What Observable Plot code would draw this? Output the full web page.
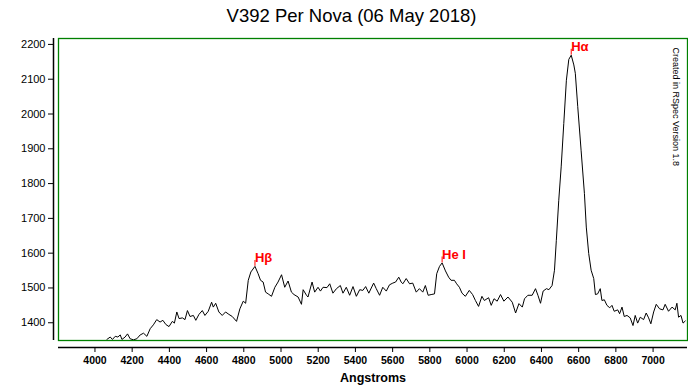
<!DOCTYPE html>
<html>
<head>
<meta charset="utf-8">
<script src="https://cdn.jsdelivr.net/npm/d3@7"></script>
<script src="https://cdn.jsdelivr.net/npm/@observablehq/plot@0.6"></script>
<style>
  html, body { margin: 0; padding: 0; background: #fff; }
  #wrap { position: relative; width: 688px; height: 389px; overflow: hidden; }
  #title { position: absolute; left: 0; top: 0; width: 688px; height: 36px;
    font-family: "Liberation Sans", Arial, sans-serif; font-size: 18.5px; color: #000;
    text-align: center; line-height: 18px; padding-top: 7px; box-sizing: border-box; text-indent: 15px; }
  #chart { position: absolute; left: 0; top: 36px; }
</style>
</head>
<body>
<div id="wrap">
  <div id="title">V392 Per Nova (06 May 2018)</div>
  <div id="chart"></div>
</div>
<script>
// Spectrum (wavelength in Angstroms, relative flux)
const wavelengths = [
  4064,4082,4094,4109,4123,4136,4145,4162,4175,4189,4207,4225,4243,4261,4279,4297,4314,4332,4350,4365,
  4381,4398,4416,4427,4440,4452,4470,4484,4497,4511,4529,4542,4559,4577,4591,4609,4627,4636,4649,4666,
  4684,4702,4720,4738,4761,4779,4797,4810,4824,4838,4860,4877,4890,4904,4917,4931,4949,4967,4984,5003,
  5020,5038,5056,5070,5092,5110,5119,5137,5145,5167,5181,5199,5212,5226,5247,5262,5279,5298,5319,5333,
  5351,5369,5387,5405,5423,5440,5455,5472,5498,5512,5530,5547,5566,5583,5601,5616,5633,5646,5655,5673,
  5691,5708,5727,5744,5762,5776,5791,5807,5825,5837,5852,5866,5884,5901,5914,5932,5944,5959,5973,5991,
  6012,6030,6045,6062,6080,6093,6116,6130,6145,6162,6180,6198,6220,6243,6261,6279,6297,6309,6327,6350,
  6368,6381,6395,6409,6427,6440,6457,6470,6480,6493,6506,6520,6534,6547,6560,6574,6582,6595,6613,6631,
  6641,6654,6667,6681,6690,6702,6716,6725,6738,6752,6767,6779,6791,6810,6820,6833,6845,6860,6877,6892,
  6904,6917,6931,6949,6963,6976,6988,7003,7017,7035,7053,7065,7083,7102,7119,7128,7137,7150,7161,7173
];
const flux = [
  1352,1359,1352,1361,1359,1365,1352,1359,1368,1354,1351,1354,1365,1370,1361,1383,1394,1409,1402,1407,
  1395,1389,1404,1399,1431,1412,1414,1409,1435,1418,1421,1407,1424,1435,1421,1433,1459,1445,1456,1431,
  1421,1431,1424,1418,1404,1440,1462,1456,1522,1546,1562,1541,1522,1517,1488,1483,1476,1502,1517,1538,
  1502,1520,1488,1481,1474,1453,1495,1479,1474,1517,1488,1502,1491,1502,1501,1512,1485,1498,1507,1485,
  1502,1479,1504,1476,1495,1493,1504,1485,1514,1498,1479,1502,1491,1509,1514,1517,1531,1517,1512,1527,
  1512,1514,1488,1498,1488,1507,1479,1481,1483,1541,1562,1572,1549,1531,1522,1522,1512,1502,1485,1476,
  1493,1481,1464,1447,1476,1464,1472,1450,1469,1462,1481,1462,1474,1459,1428,1455,1445,1469,1479,1479,
  1498,1479,1456,1491,1498,1495,1507,1551,1637,1752,1848,1973,2097,2157,2169,2141,2117,2021,1896,1771,
  1675,1599,1551,1527,1481,1483,1498,1464,1466,1450,1443,1450,1433,1437,1426,1445,1418,1421,1414,1392,
  1421,1399,1416,1409,1428,1414,1397,1431,1453,1440,1437,1453,1433,1445,1437,1456,1416,1421,1399,1405
];

// Line identifications
const lineNames = ["H\u03b2", "He I", "H\u03b1"];
const lineWaves = [4860, 5866, 6560];
const linePeaks = [1562, 1572, 2169];

// Axis ticks
const xTicks = [4000,4200,4400,4600,4800,5000,5200,5400,5600,5800,6000,6200,6400,6600,6800,7000];
const yTicks = [1400,1500,1600,1700,1800,1900,2000,2100,2200];
const xDomain = [3804, 7185];
const yDomain = [1349, 2217];

const xLabel = "Angstroms";
const creditText = "Created in RSpec Version 1.8";

const spectrum = wavelengths.map((w, i) => ({w, f: flux[i]}));
const lines = lineNames.map((name, i) => ({name, w: lineWaves[i], f: linePeaks[i]}));

const font = '"Liberation Sans", Arial, sans-serif';

const chart = Plot.plot({
  width: 688,
  height: 353,
  marginTop: 2,
  marginLeft: 58,
  marginRight: 1,
  marginBottom: 49,
  style: {fontFamily: font, fontSize: "11px", background: "#fff", color: "#000", overflow: "visible"},
  x: {domain: xDomain, ticks: xTicks},
  y: {domain: yDomain, ticks: yTicks},
  marks: [
    // spectrum
    Plot.line(spectrum, {x: "w", y: "f", stroke: "#000", strokeWidth: 1, clip: true}),
    // green plot frame
    Plot.frame({stroke: "#008000", strokeWidth: 1.3}),
    // y axis (offset left of frame)
    Plot.ruleX([xDomain[0]], {dx: -5, stroke: "#000", strokeWidth: 1.5}),
    Plot.axisY({ticks: yTicks, dx: -5, tickSize: 5, tickPadding: 3, label: null, fontSize: 11, tickFormat: d => String(d)}),
    // x axis (offset below frame)
    Plot.ruleY([yDomain[0]], {dy: 7, stroke: "#000", strokeWidth: 1.5}),
    Plot.axisX({ticks: xTicks, dy: 7, tickSize: 5, tickPadding: 4, label: null, fontSize: 10.5, fontWeight: "bold", tickFormat: d => String(d)}),
    Plot.text([xLabel], {frameAnchor: "bottom", dy: 41, fontSize: 12.5, fontWeight: "bold", fill: "#000"}),
    // line identification markers
    Plot.ruleX(lines, {x: "w", y1: "f", y2: d => d.f + 17, stroke: "#ff0000", strokeWidth: 1}),
    Plot.text(lines, {x: "w", y: d => d.f + 15, text: "name", fill: "#ff0000", fontSize: 13, fontWeight: "bold",
      textAnchor: "start", lineAnchor: "bottom", dx: 0, dy: 1}),
    // credit text
    Plot.text([creditText], {frameAnchor: "top-right", rotate: 90, textAnchor: "start", dx: -8, dy: 9,
      fontSize: 9, fill: "#000"})
  ]
});
document.getElementById("chart").appendChild(chart);
</script>
</body>
</html>
